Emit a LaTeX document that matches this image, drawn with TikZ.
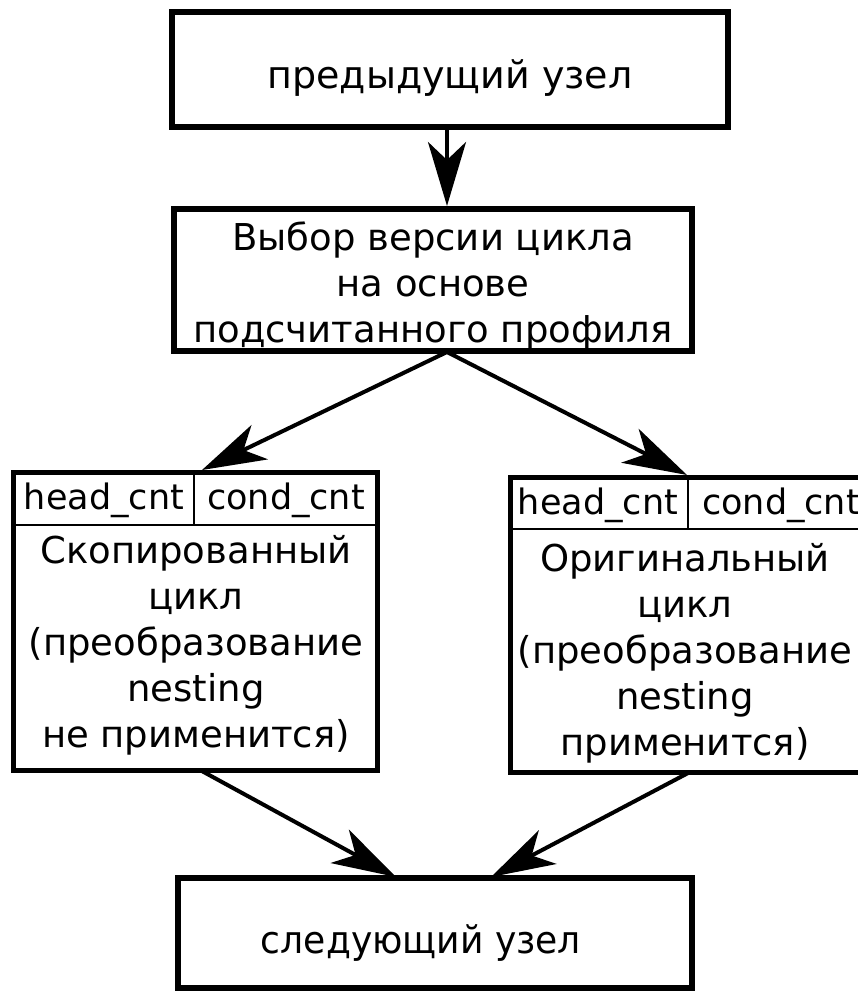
\documentclass[tikz,border=0pt]{standalone}
\usepackage{fontspec}
\setmainfont{DejaVu Sans}
\usetikzlibrary{arrows.meta}
\begin{document}
\begin{tikzpicture}[x=1pt,y=-1pt,
  box/.style={draw, line width=6pt, inner sep=0pt},
  loopbox/.style={draw, line width=5pt, inner sep=0pt},
  rule/.style={line width=2pt},
  txt/.style={inner sep=0pt, align=center, font=\fontsize{37}{46}\selectfont},
  hdr/.style={inner sep=0pt, font=\fontsize{35}{40}\selectfont},
  link/.style={line width=4pt, -{Stealth[length=64pt,width=38pt,inset=18pt]}}]
  \clip (0,0) rectangle (858,992);

  % main chain of boxes
  \node[box, minimum width=556pt, minimum height=115pt] (prev) at (450,69.5) {};
  \node[txt, font=\fontsize{38}{46}\selectfont] (prevtext) at (450,78) {предыдущий узел};

  \node[box, minimum width=518pt, minimum height=142pt] (choice) at (433,280) {};
  \node[txt] (choicetext) at (433,286)
    {Выбор версии цикла\\на основе\\подсчитанного профиля};

  \node[box, minimum width=514pt, minimum height=110pt] (next) at (435,933) {};
  \node[txt, font=\fontsize{38}{46}\selectfont] (nexttext) at (421,943)
    {\scalebox{0.95}[1]{следующий узел}};

  % copied loop version
  \node[loopbox, minimum width=364pt, minimum height=298pt] (copy) at (195,621) {};
  \coordinate (copyhl) at (13,525);
  \coordinate (copyhr) at (377,525);
  \coordinate (copydiv) at (194,525);
  \draw[rule] (copyhl) -- (copyhr);
  \draw[rule] (copydiv) -- (copydiv |- copy.north);
  \node[hdr] (copyhead) at (104,500) {head\_cnt};
  \node[hdr] (copycond) at (286,500) {cond\_cnt};
  \node[txt] (copytext) at (196,645)
    {Скопированный\\цикл\\(преобразование\\nesting\\не применится)};

  % original loop version
  \node[loopbox, minimum width=356pt, minimum height=295pt] (orig) at (688,624.5) {};
  \coordinate (orighl) at (510,529);
  \coordinate (orighr) at (866,529);
  \coordinate (origdiv) at (688,529);
  \draw[rule] (orighl) -- (orighr);
  \draw[rule] (origdiv) -- (origdiv |- orig.north);
  \node[hdr] (orighead) at (598,505) {head\_cnt};
  \node[hdr] (origcond) at (781,505) {cond\_cnt};
  \node[txt] (origtext) at (685,653)
    {Оригинальный\\цикл\\(преобразование\\nesting\\применится)};

  % connection points
  \coordinate (fork) at (447,352);
  \coordinate (copyin) at (202,470);
  \coordinate (origin) at (687,475);
  \coordinate (copyout) at (200,770);
  \coordinate (origout) at (690,772);
  \coordinate (nextinl) at (396,877);
  \coordinate (nextinr) at (491,877);

  % connectors
  \draw[link] (prev.south -| fork) -- (choice.north -| fork);
  \draw[link] (fork) -- (copyin);
  \draw[link] (fork) -- (origin);
  \draw[link] (copyout) -- (nextinl);
  \draw[link] (origout) -- (nextinr);
\end{tikzpicture}
\end{document}
